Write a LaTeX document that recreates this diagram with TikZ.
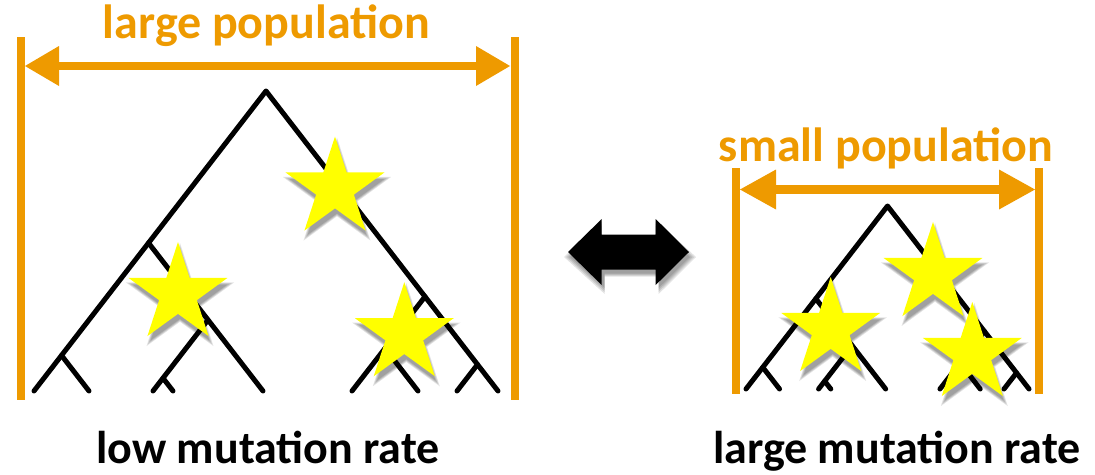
\documentclass[tikz,border=0pt]{standalone}
\usepackage{fontspec}
\setmainfont{Carlito}
\usetikzlibrary{shapes.geometric}
\definecolor{orng}{HTML}{EE9A00}
\definecolor{ylw}{HTML}{FFFF00}
\tikzset{
  branch/.style={line width=5pt, line cap=round, line join=round, black},
  bar/.style={line width=8pt, orng},
  shaft/.style={line width=8.5pt, orng},
  caption/.style={font=\bfseries\fontsize{48}{50}\selectfont, anchor=base, inner sep=0pt},
  bottomcaption/.style={font=\bfseries\fontsize{46}{50}\selectfont, anchor=base, inner sep=0pt},
  starbase/.style={star, star points=5, star point ratio=2.618, inner sep=0pt, draw=none},
  starfill/.style={starbase, fill=ylw, minimum size=104pt},
  starshade/.style={starbase, fill=black, fill opacity=0.11, minimum size=#1},
}
\newcommand\phylotree[4]{%
\begin{scope}[shift={(#2,#3)}, scale=#4]
  \coordinate (#1r)  at (0,0);
  \coordinate (#1A)  at (-117.5,151.9);
  \coordinate (#1J1) at (-204.5,264.4);
  \coordinate (#1J2) at (-58,228.9);
  \coordinate (#1J3) at (-103,287.1);
  \coordinate (#1J4) at (159,205.6);
  \coordinate (#1J5) at (119,257.3);
  \coordinate (#1J6) at (211.5,273.5);
  \coordinate (#1f1) at (-232,300);
  \coordinate (#1f2) at (-177,300);
  \coordinate (#1f3) at (-113,300);
  \coordinate (#1f4) at (-93,300);
  \coordinate (#1f5) at (-3,300);
  \coordinate (#1f6) at (86,300);
  \coordinate (#1f7) at (152,300);
  \coordinate (#1f8) at (191,300);
  \coordinate (#1f9) at (232,300);
\end{scope}
\draw[branch] (#1f1) -- (#1r) -- (#1f9);
\draw[branch] (#1A) -- (#1f5);
\draw[branch] (#1J1) -- (#1f2);
\draw[branch] (#1J2) -- (#1f3);
\draw[branch] (#1J3) -- (#1f4);
\draw[branch] (#1J4) -- (#1f6);
\draw[branch] (#1J5) -- (#1f7);
\draw[branch] (#1J6) -- (#1f8);
}
\newcommand\yellowstar[3]{%
  \node[starshade=114pt] (#1-s1) at (#2+2,#3+6) {};
  \node[starshade=109pt] (#1-s2) at (#2+2,#3+6) {};
  \node[starshade=104pt] (#1-s3) at (#2+2,#3+6) {};
  \node[starshade=99pt]  (#1-s4) at (#2+2,#3+6) {};
  \node[starfill] (#1) at (#2,#3) {};
}
\begin{document}
\begin{tikzpicture}[x=1pt,y=-1pt]
\useasboundingbox (0,0) rectangle (1095,474);
% ---------- left: large population ----------
\coordinate (LbarT) at (21,37);   \coordinate (LbarB) at (21,400);
\coordinate (RbarT) at (515,37);  \coordinate (RbarB) at (515,400);
\draw[bar] (LbarT) -- (LbarB);
\draw[bar] (RbarT) -- (RbarB);
\coordinate (La) at (25,66); \coordinate (Lb) at (510,66);
\draw[shaft] ([xshift=30pt]La) -- ([xshift=-30pt]Lb);
\fill[orng] (La) -- ++(34,-20) -- ++(0,40) -- cycle;
\fill[orng] (Lb) -- ++(-34,-20) -- ++(0,40) -- cycle;
\node[caption, text=orng] (lpop) at (266.5,38) {large population};
\phylotree{a}{266}{91}{1}
\yellowstar{sa1}{335}{188.5}
\yellowstar{sa2}{178}{294}
\yellowstar{sa3}{404.3}{334.2}
\node[bottomcaption] (lowrate) at (268,463) {low mutation rate};
% ---------- middle double arrow ----------
\foreach \g in {4,2,0,-2}{
  \fill[black, opacity=0.11] (568-\g,252+5) -- (601.7,219-\g+5) -- (601.7,234.5-\g/2+5) -- (655.7,234.5-\g/2+5) -- (655.7,219-\g+5) -- (689+\g+3,252+5)
    -- (655.7+3,285+\g+5) -- (655.7+3,269.5+\g/2+5) -- (601.7+3,269.5+\g/2+5) -- (601.7+3,285+\g+5) -- cycle;
}
\fill[black] (568,252) -- (601.7,219) -- (601.7,234.5) -- (655.7,234.5) -- (655.7,219) -- (689,252)
  -- (655.7,285) -- (655.7,269.5) -- (601.7,269.5) -- (601.7,285) -- cycle;
% ---------- right: small population ----------
\coordinate (LbarT2) at (736,168);  \coordinate (LbarB2) at (736,394);
\coordinate (RbarT2) at (1039,168); \coordinate (RbarB2) at (1039,394);
\draw[bar] (LbarT2) -- (LbarB2);
\draw[bar] (RbarT2) -- (RbarB2);
\coordinate (Sa) at (740,189.5); \coordinate (Sb) at (1035,189.5);
\draw[shaft] ([xshift=32pt]Sa) -- ([xshift=-32pt]Sb);
\fill[orng] (Sa) -- ++(36,-20) -- ++(0,40) -- cycle;
\fill[orng] (Sb) -- ++(-36,-20) -- ++(0,40) -- cycle;
\node[caption, text=orng] (spop) at (886,161.7) {small population};
\phylotree{b}{887.5}{206}{0.61}
\yellowstar{sb1}{933}{274}
\yellowstar{sb2}{830.7}{329}
\yellowstar{sb3}{972.3}{354}
\node[bottomcaption] (largerate) at (897,463) {large mutation rate};
\end{tikzpicture}
\end{document}
